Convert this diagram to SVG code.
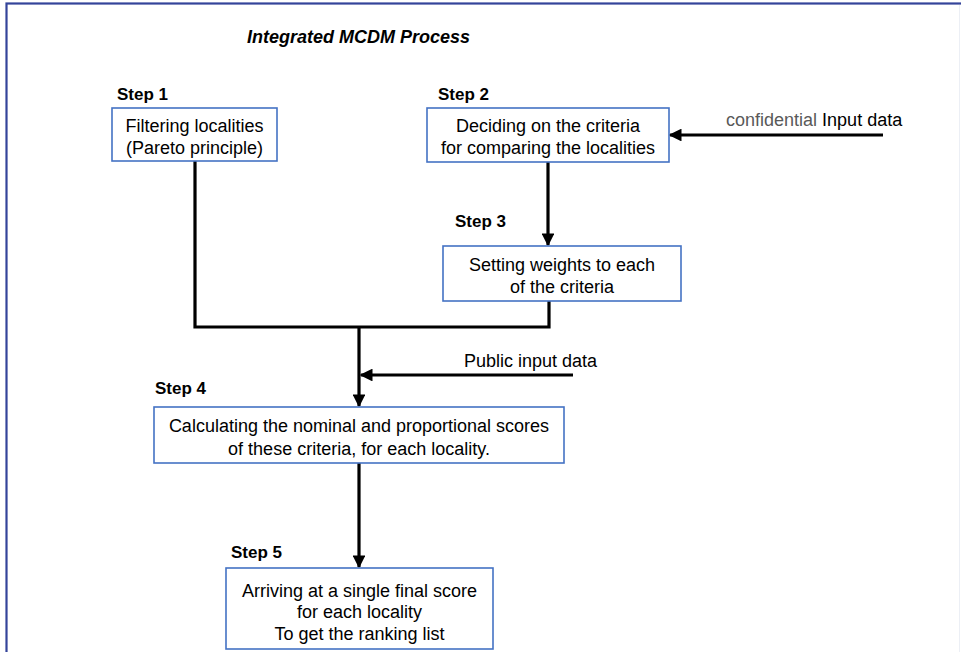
<svg xmlns="http://www.w3.org/2000/svg" width="961" height="652" viewBox="0 0 961 652">
<defs>
<style>
.box{fill:#fff;stroke:#4472c4;stroke-width:1.6}
.t{font-family:"Liberation Sans",Arial,sans-serif;font-size:18px;fill:#000}
.c{text-anchor:middle}
.step{font-family:"Liberation Sans",Arial,sans-serif;font-size:17px;font-weight:bold;fill:#000}
.ln{fill:none;stroke:#000;stroke-width:3.2}
</style>
<marker id="ah" viewBox="0 0 10 10" refX="9" refY="5" markerWidth="4" markerHeight="4" orient="auto" markerUnits="strokeWidth">
<path d="M0,0 L10,5 L0,10 z" fill="#000"/>
</marker>
</defs>
<rect x="0" y="0" width="961" height="652" fill="#fff"/>
<rect x="6.5" y="3.5" width="980" height="680" fill="none" stroke="#34449a" stroke-width="2.2"/>
<line x1="959.5" y1="5" x2="959.5" y2="652" stroke="#eceff5" stroke-width="1"/>
<text id="title" x="247" y="43" font-family="'Liberation Sans',Arial,sans-serif" font-size="18" font-weight="bold" font-style="italic">Integrated MCDM Process</text>
<g id="connectors">
<polyline class="ln" points="195,161 195,327 549,327 549,301"/>
<line class="ln" x1="883" y1="135" x2="670" y2="135" marker-end="url(#ah)"/>
<line class="ln" x1="548" y1="162" x2="548" y2="245" marker-end="url(#ah)"/>
<line class="ln" x1="359" y1="327" x2="359" y2="406" marker-end="url(#ah)"/>
<line class="ln" x1="573" y1="375" x2="361" y2="375" marker-end="url(#ah)"/>
<line class="ln" x1="359" y1="463" x2="359" y2="567" marker-end="url(#ah)"/>
</g>
<g id="input-confidential">
<text class="t" x="726" y="126"><tspan fill="#595959">confidential</tspan> <tspan>Input data</tspan></text>
</g>
<g id="input-public">
<text class="t" x="464" y="367">Public input data</text>
</g>
<g id="step1">
<text class="step" x="117" y="100">Step 1</text>
<rect class="box" x="112" y="108" width="165" height="53"/>
<text class="t c" x="194.5" y="132">Filtering localities</text>
<text class="t c" x="194.5" y="154">(Pareto principle)</text>
</g>
<g id="step2">
<text class="step" x="438" y="100">Step 2</text>
<rect class="box" x="427" y="108" width="242" height="54"/>
<text class="t c" x="548" y="132">Deciding on the criteria</text>
<text class="t c" x="548" y="154">for comparing the localities</text>
</g>
<g id="step3">
<text class="step" x="455" y="227">Step 3</text>
<rect class="box" x="443" y="246" width="238" height="55"/>
<text class="t c" x="562" y="271">Setting weights to each</text>
<text class="t c" x="562" y="293">of the criteria</text>
</g>
<g id="step4">
<text class="step" x="155" y="394">Step 4</text>
<rect class="box" x="154" y="407" width="410" height="56"/>
<text class="t c" x="359" y="432">Calculating the nominal and proportional scores</text>
<text class="t c" x="359" y="455">of these criteria, for each locality.</text>
</g>
<g id="step5">
<text class="step" x="231" y="558">Step 5</text>
<rect class="box" x="226" y="568" width="267" height="81"/>
<text class="t c" x="359.5" y="597">Arriving at a single final score</text>
<text class="t c" x="359.5" y="618">for each locality</text>
<text class="t c" x="359.5" y="640">To get the ranking list</text>
</g>
</svg>
